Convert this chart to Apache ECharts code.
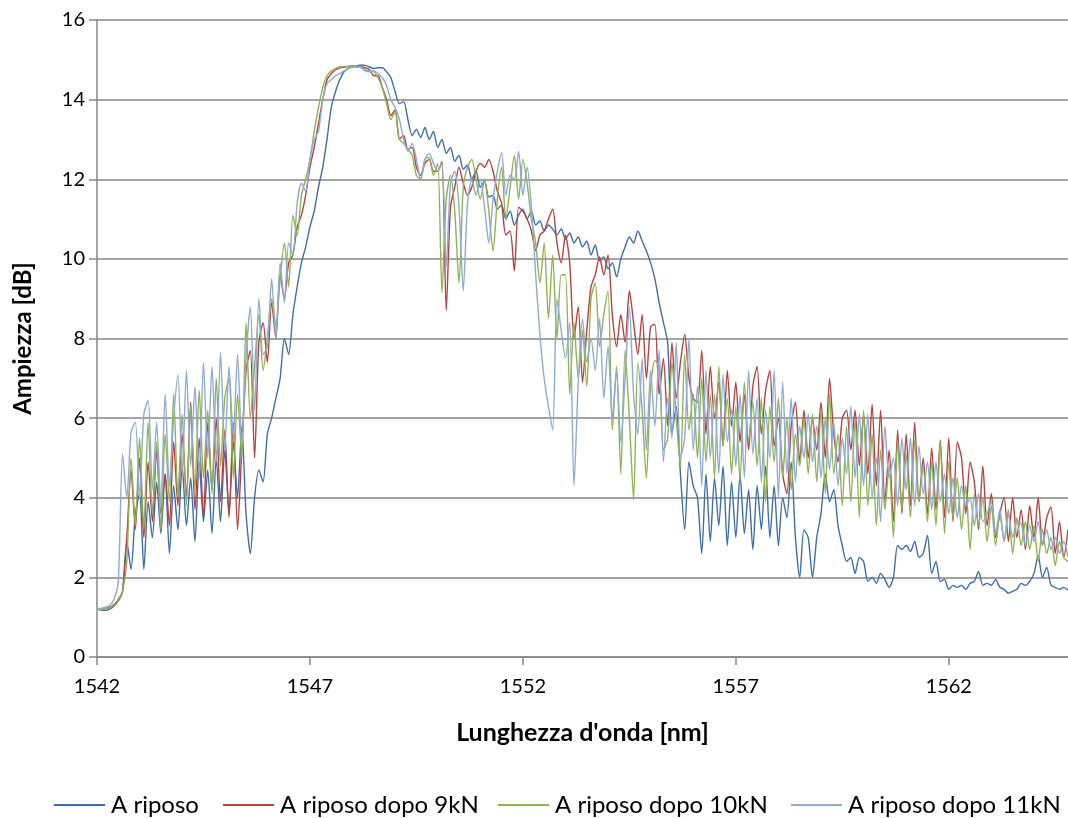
<!DOCTYPE html>
<html>
<head>
<meta charset="utf-8">
<script src="https://cdn.jsdelivr.net/npm/echarts@6/dist/echarts.min.js"></script>
<style>html,body{margin:0;padding:0;background:#fff}#c{width:1068px;height:818px}</style>
</head>
<body>
<div id="c"></div>
<script>
// Wavelength sampling grid (nm): 1542.0 .. 1564.8, step 0.1
const lambdaStart = 1542;
const lambdaStep = 0.1;
const xTicks = [1542, 1547, 1552, 1557, 1562];
const yTicks = [0, 2, 4, 6, 8, 10, 12, 14, 16];
const seriesNames = ['A riposo', 'A riposo dopo 9kN', 'A riposo dopo 10kN', 'A riposo dopo 11kN'];

const riposo = [
1.20,1.18,1.17,1.20,1.28,1.40,1.65,2.90,2.20,3.60,
4.10,2.20,3.90,3.00,4.40,3.10,4.60,2.60,4.30,3.20,
4.80,3.30,4.50,2.90,4.90,3.40,4.70,3.10,5.00,3.40,
5.20,3.60,5.40,4.00,5.80,3.60,2.60,4.00,4.70,4.40,
5.60,6.00,6.50,7.00,8.00,7.60,8.60,9.30,9.90,10.30,
10.80,11.20,11.80,12.30,13.00,13.80,14.20,14.50,14.70,14.78,
14.82,14.85,14.87,14.86,14.82,14.78,14.80,14.80,14.70,14.55,
14.20,13.90,13.95,13.50,13.10,13.25,13.05,13.30,13.00,13.20,
12.80,13.00,12.65,12.80,12.45,12.60,12.25,12.35,12.00,12.20,
11.80,11.95,11.55,11.60,11.25,11.35,11.00,11.20,10.85,11.10,
11.25,11.00,11.20,10.85,10.95,10.70,10.85,10.75,10.60,10.75,
10.50,10.65,10.40,10.55,10.30,10.45,10.10,10.35,9.95,10.05,
9.75,9.90,9.55,10.00,10.30,10.55,10.40,10.70,10.45,10.20,
9.90,9.50,8.90,8.40,7.90,5.60,6.30,4.60,3.20,4.90,
4.30,4.00,2.60,4.60,2.90,4.50,3.30,4.80,2.80,4.40,
3.00,4.60,3.10,4.20,2.70,4.30,3.20,4.80,3.00,4.30,
2.80,4.00,3.50,4.90,3.00,2.00,3.20,3.00,2.00,3.00,
3.60,4.60,3.90,4.20,3.30,2.80,2.40,2.50,2.10,2.50,
2.40,1.90,2.00,1.85,2.10,1.95,1.75,2.00,2.80,2.70,
2.80,2.65,2.90,2.50,2.60,3.05,2.10,2.40,1.90,1.95,
1.70,1.80,1.75,1.80,1.70,1.85,1.90,2.15,1.80,1.85,
1.80,1.95,1.75,1.70,1.60,1.65,1.70,1.85,1.80,1.90,
2.10,2.55,2.00,2.25,1.80,1.75,1.70,1.75,1.68
];

const dopo9kN = [
1.20,1.20,1.22,1.25,1.32,1.45,1.65,3.00,4.70,3.20,
5.00,3.00,4.90,3.40,5.20,3.60,4.60,3.30,5.40,3.80,
5.60,4.00,6.40,3.70,5.50,3.50,5.90,4.20,6.00,3.90,
5.70,3.50,5.90,3.20,5.20,7.20,7.70,5.00,7.90,8.40,
7.40,8.90,8.00,9.60,9.00,9.90,10.10,10.80,11.10,11.60,
12.30,12.80,13.40,14.00,14.50,14.65,14.75,14.80,14.82,14.83,
14.84,14.82,14.83,14.80,14.75,14.60,14.60,14.30,14.00,13.60,
13.75,13.00,13.10,12.75,12.80,12.30,12.10,12.40,12.50,12.20,
12.20,12.45,8.70,11.30,11.80,12.30,11.90,11.60,11.80,12.20,
12.40,12.30,12.50,12.20,11.70,11.40,10.60,10.70,9.70,11.30,
11.20,11.00,10.70,10.20,10.60,10.70,11.00,11.25,10.40,9.90,
10.60,9.90,8.00,8.80,6.90,8.20,9.30,9.60,10.05,9.60,
10.10,8.60,7.80,8.60,7.90,9.20,8.40,7.60,8.60,7.00,
8.30,8.35,6.60,7.50,5.80,7.90,6.50,7.40,8.10,7.00,
6.50,6.40,7.70,5.60,7.30,6.00,6.90,5.30,7.20,5.80,
6.90,5.40,6.60,5.20,6.80,7.30,5.60,6.70,7.20,5.30,
6.00,4.60,4.10,5.80,6.40,4.90,6.20,5.00,6.00,5.20,
6.40,5.00,7.00,5.60,4.90,6.00,6.20,5.20,6.20,4.80,
6.10,4.60,6.35,4.30,6.20,3.90,5.20,3.40,5.70,3.60,
5.60,3.80,5.90,3.90,5.00,3.60,5.25,3.70,5.45,3.50,
5.50,3.40,5.40,5.00,3.60,4.90,4.40,3.20,4.80,3.30,
4.10,3.00,3.60,4.00,2.90,4.00,3.00,3.70,2.70,3.80,
3.00,4.00,2.80,3.50,3.77,2.60,3.40,2.50,3.20
];

const dopo10kN = [
1.20,1.20,1.21,1.24,1.30,1.42,1.65,2.40,5.00,3.30,
5.50,3.20,5.90,3.60,5.40,3.20,5.60,3.90,6.60,4.00,
6.10,3.80,6.30,4.20,6.70,4.50,6.20,4.10,7.00,4.80,
6.50,7.00,4.50,6.60,5.00,8.40,6.00,7.30,8.60,7.20,
8.00,9.00,8.30,9.50,10.40,9.30,11.10,10.60,11.60,12.00,
12.50,13.20,13.80,14.30,14.60,14.72,14.78,14.82,14.83,14.84,
14.85,14.84,14.82,14.75,14.72,14.70,14.55,14.30,13.90,13.50,
13.70,13.00,12.90,12.75,12.60,12.10,12.00,12.50,12.55,12.10,
12.40,9.15,11.50,12.10,11.20,9.40,11.80,12.30,12.50,12.00,
11.50,12.00,11.20,10.20,11.50,12.30,11.00,11.80,12.60,11.50,
12.50,11.90,11.00,10.40,9.40,10.40,8.50,10.10,8.00,9.60,
9.60,6.60,8.40,7.00,8.20,6.80,9.00,9.40,7.80,8.60,
9.20,5.70,7.30,4.60,7.70,6.00,3.95,7.40,6.20,4.50,
6.80,7.45,7.30,5.20,5.50,7.40,6.00,4.80,7.60,5.70,
6.60,5.00,7.00,4.90,6.60,4.50,7.30,5.30,6.50,4.60,
6.30,4.40,6.90,5.40,6.40,4.80,6.50,3.90,6.30,4.90,
6.50,4.50,6.00,4.20,5.60,4.80,6.00,4.60,6.10,4.40,
6.20,4.10,6.60,4.60,5.60,3.80,5.80,3.90,6.00,3.50,
6.20,3.80,5.60,3.30,5.20,3.70,4.80,3.00,5.45,3.70,
5.10,3.50,5.45,3.90,4.80,3.40,4.90,3.30,5.40,3.10,
4.90,3.50,4.50,3.20,4.30,2.70,4.10,3.30,4.00,2.90,
3.80,2.80,3.60,2.90,3.70,2.60,3.50,2.80,3.40,2.70,
3.30,2.40,3.20,2.60,3.00,2.30,2.90,2.50,2.40
];

const dopo11kN = [
1.22,1.22,1.25,1.30,1.45,1.90,5.10,4.00,5.65,5.90,
4.00,6.10,6.45,4.20,5.90,3.80,6.60,4.30,6.00,7.10,
4.60,7.20,4.80,6.80,4.50,7.40,5.00,7.30,4.90,7.65,
5.20,7.30,5.50,7.60,5.30,7.50,8.80,6.20,9.00,7.60,
7.80,9.50,8.00,9.90,8.90,10.40,10.10,11.40,11.90,11.70,
12.50,13.00,13.20,14.00,14.40,14.50,14.60,14.65,14.72,14.78,
14.82,14.83,14.80,14.72,14.70,14.72,14.65,14.55,14.35,14.00,
13.80,13.50,13.00,12.70,12.90,12.50,12.00,12.50,12.65,12.40,
12.20,12.40,9.80,11.90,12.20,11.30,9.20,11.40,12.00,11.60,
12.00,11.30,10.40,11.50,12.20,12.66,11.60,12.10,12.00,12.70,
11.60,12.30,11.30,9.60,8.10,7.00,6.30,5.70,9.00,8.20,
7.50,8.40,4.30,6.90,8.50,7.40,8.00,7.20,8.50,6.50,
7.80,6.00,7.20,5.40,7.00,8.80,6.60,5.60,7.50,5.20,
7.20,5.80,7.70,4.90,6.50,5.50,7.90,5.00,5.50,8.00,
5.20,6.80,4.30,7.20,5.00,6.60,4.60,7.10,5.40,6.20,
4.80,6.60,4.50,7.20,5.10,6.50,4.40,6.20,5.00,7.20,
4.00,6.90,4.60,6.50,4.40,5.80,5.00,6.10,4.90,5.80,
4.50,6.00,4.70,5.90,4.30,5.50,4.60,6.30,4.50,6.10,
4.30,6.10,4.00,5.00,3.40,5.80,4.50,5.00,3.80,5.50,
4.20,5.50,3.80,5.30,4.10,4.90,3.70,4.90,3.90,4.60,
3.60,4.50,3.50,4.30,3.80,4.00,3.30,4.10,3.40,3.60,
3.90,3.10,3.70,2.90,3.60,3.00,3.40,3.35,2.80,3.30,
2.90,3.40,2.80,3.20,2.70,3.00,2.60,2.90,2.50
];

const colors = ['#3E6DAF', '#B7423E', '#8EB452', '#8FAAD6'];
const allSeries = [riposo, dopo9kN, dopo10kN, dopo11kN];
const legendLeft = [49, 218, 493, 786];

function toPairs(arr) {
  return arr.map((v, i) => [Math.round(i * lambdaStep * 1000) / 1000, v]);
}

const FONT = 'Lato, "Open Sans", sans-serif';
const chart = echarts.init(document.getElementById('c'), null, { renderer: 'canvas' });
chart.setOption({
  animation: false,
  backgroundColor: '#ffffff',
  color: colors,
  grid: { left: 97, top: 20, right: 0, height: 637 },
  xAxis: {
    type: 'value',
    min: 0,
    max: 22.8,
    interval: 5,
    name: "Lunghezza d'onda [nm]",
    nameLocation: 'middle',
    nameGap: 63,
    nameTextStyle: { fontFamily: FONT, fontSize: 25, fontWeight: 'bold', color: '#000' },
    axisLine: { show: true, lineStyle: { color: '#868686', width: 1.5 } },
    axisTick: { show: true, inside: false, length: 8, lineStyle: { color: '#868686', width: 1.5 } },
    axisLabel: {
      margin: 20, fontFamily: FONT, fontSize: 20, color: '#000',
      showMaxLabel: false,
      formatter: v => { const t = lambdaStart + v; return xTicks.includes(t) ? String(t) : ''; }
    },
    splitLine: { show: false }
  },
  yAxis: {
    type: 'value',
    min: 0,
    max: 16,
    interval: 2,
    name: 'Ampiezza [dB]',
    nameLocation: 'middle',
    nameGap: 62,
    nameTextStyle: { fontFamily: FONT, fontSize: 24, fontWeight: 'bold', color: '#000' },
    axisLine: { show: true, lineStyle: { color: '#868686', width: 1.5 } },
    axisTick: { show: true, inside: false, length: 8, lineStyle: { color: '#868686', width: 1.5 } },
    axisLabel: { margin: 12, fontFamily: FONT, fontSize: 20, color: '#000',
      formatter: v => yTicks.includes(v) ? String(v) : '' },
    splitLine: { show: true, lineStyle: { color: '#868686', width: 1.5 } }
  },
  legend: seriesNames.map((n, k) => ({
    top: 788,
    left: legendLeft[k],
    icon: 'rect',
    itemWidth: 51,
    itemHeight: 2,
    textStyle: { fontFamily: FONT, fontSize: 24, color: '#000', padding: [0, 0, 0, 1] },
    data: [n]
  })),
  series: allSeries.map((arr, k) => ({
    name: seriesNames[k],
    type: 'line',
    data: toPairs(arr),
    showSymbol: false,
    symbol: 'none',
    smooth: 0.25,
    lineStyle: { width: 1.4, color: colors[k] },
    itemStyle: { color: colors[k] }
  }))
});
</script>
</body>
</html>
